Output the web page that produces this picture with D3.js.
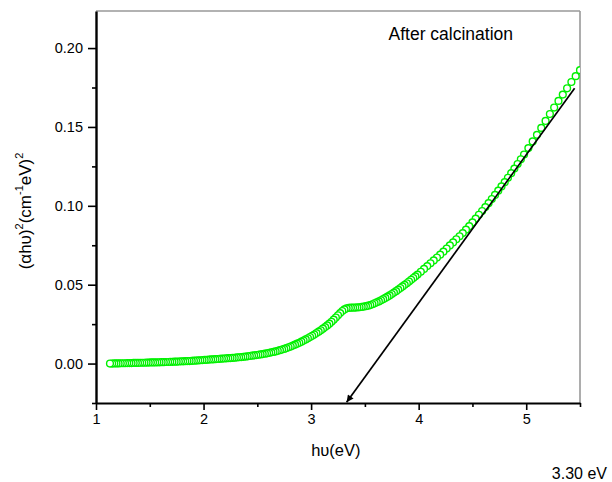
<!DOCTYPE html>
<html>
<head>
<meta charset="utf-8">
<script src="https://cdn.jsdelivr.net/npm/d3@7"></script>
<style>
    body { margin: 0; background: #fff; }
    text { font-family: "Liberation Sans", Arial, sans-serif; fill: #000; }
</style>
</head>
<body>
<div class="chart"></div>
<script>
// photon energy hv (eV)
var energy = [
    1.13,1.15,1.17,1.19,1.21,1.23,1.25,1.27,1.29,1.31,
    1.33,1.35,1.37,1.39,1.41,1.43,1.45,1.47,1.49,1.51,
    1.53,1.55,1.57,1.59,1.61,1.63,1.65,1.67,1.69,1.71,
    1.73,1.75,1.77,1.79,1.81,1.83,1.85,1.87,1.89,1.91,
    1.93,1.95,1.97,1.99,
    2.01,2.03,2.05,2.07,2.09,2.11,2.13,2.15,2.17,2.19,
    2.21,2.23,2.25,2.27,2.29,2.31,2.33,2.35,2.37,2.39,
    2.41,2.43,2.45,2.47,2.49,2.51,2.53,2.55,2.57,2.59,
    2.61,2.63,2.65,2.67,2.69,2.71,2.73,2.75,2.77,2.79,
    2.81,2.83,2.85,2.87,2.89,2.91,2.93,2.95,2.97,2.99,
    3.01,3.03,3.05,3.07,3.09,3.11,3.13,3.15,3.17,3.19,
    3.21,3.23,3.25,3.27,3.29,3.31,3.33,3.35,3.37,3.39,
    3.41,3.43,3.45,3.47,3.49,3.51,3.53,3.55,3.57,3.59,
    3.61,3.63,3.65,3.67,3.69,3.71,3.73,3.75,3.77,3.79,
    3.81,3.83,3.85,3.87,3.89,3.91,3.93,3.95,3.97,3.99,
    4.02,4.05,4.08,4.11,4.14,4.17,4.20,4.23,4.26,4.29,
    4.32,4.35,4.38,4.41,4.44,4.47,4.50,4.53,4.56,4.59,
    4.62,4.65,4.68,4.71,4.74,4.77,4.80,4.83,4.86,4.89,
    4.92,4.95,4.98,
    5.02,5.06,5.10,5.14,5.18,5.22,5.26,5.30,5.34,5.38,
    5.42,5.46,5.50
];
// (alpha h v)^2 (cm-1 eV)^2
var alphaHv2 = [
    0.0000,0.0000,0.0001,0.0001,0.0001,0.0002,0.0002,0.0002,0.0003,0.0003,
    0.0003,0.0004,0.0004,0.0004,0.0005,0.0005,0.0005,0.0006,0.0006,0.0007,
    0.0007,0.0007,0.0008,0.0008,0.0009,0.0009,0.0010,0.0010,0.0011,0.0011,
    0.0012,0.0012,0.0013,0.0014,0.0014,0.0015,0.0016,0.0016,0.0017,0.0018,
    0.0019,0.0020,0.0021,0.0022,
    0.0023,0.0024,0.0025,0.0026,0.0027,0.0028,0.0029,0.0030,0.0031,0.0032,
    0.0033,0.0034,0.0035,0.0036,0.0037,0.0039,0.0040,0.0041,0.0043,0.0044,
    0.0046,0.0048,0.0050,0.0052,0.0054,0.0056,0.0058,0.0060,0.0063,0.0065,
    0.0068,0.0071,0.0074,0.0077,0.0081,0.0085,0.0089,0.0093,0.0098,0.0103,
    0.0108,0.0114,0.0120,0.0126,0.0132,0.0139,0.0146,0.0153,0.0160,0.0168,
    0.0176,0.0184,0.0193,0.0202,0.0211,0.0221,0.0231,0.0242,0.0253,0.0265,
    0.0278,0.0292,0.0306,0.0320,0.0333,0.0343,0.0350,0.0353,0.0354,0.0354,
    0.0355,0.0356,0.0357,0.0359,0.0361,0.0364,0.0367,0.0371,0.0376,0.0382,
    0.0388,0.0394,0.0401,0.0408,0.0416,0.0424,0.0432,0.0441,0.0450,0.0459,
    0.0469,0.0479,0.0489,0.0499,0.0509,0.0520,0.0531,0.0542,0.0553,0.0564,
    0.0582,0.0600,0.0618,0.0636,0.0654,0.0672,0.0690,0.0709,0.0729,0.0749,
    0.0768,0.0788,0.0807,0.0827,0.0849,0.0871,0.0895,0.0919,0.0943,0.0967,
    0.0992,0.1017,0.1043,0.1069,0.1096,0.1123,0.1150,0.1178,0.1207,0.1236,
    0.1265,0.1295,0.1325,
    0.1366,0.1408,0.1450,0.1494,0.1538,0.1582,0.1623,0.1665,0.1705,0.1745,
    0.1785,0.1822,0.1860
];
// linear fit, drawn from the upper end down to the arrow tip
var fitLine = [[5.45, 0.1746], [3.33, -0.0245]];

var xDomain = [1, 5.5];
var yDomain = [-0.025, 0.2235];
var xMajorTicks = [1, 2, 3, 4, 5];
var xMinorTicks = [1.5, 2.5, 3.5, 4.5, 5.5];
var yMajorTicks = [0, 0.05, 0.10, 0.15, 0.20];
var yMinorTicks = [-0.025, 0.025, 0.075, 0.125, 0.175];

var title = "After calcination";
var xLabel = "h\u03C5(eV)";
var gapLabel = "3.30 eV";

var option = {
    container: ".chart",
    width: 612,
    height: 482,
    marginTop: 11,
    marginRight: 32,
    marginBottom: 79,
    marginLeft: 96
};

function absorptionPlot(options) {
    var margin = {top: options.marginTop, right: options.marginRight, bottom: options.marginBottom, left: options.marginLeft};
    var width = options.width - margin.left - margin.right,
        height = options.height - margin.top - margin.bottom;

    var data = energy.map(function (e, i) {
        return {x: e, y: alphaHv2[i]};
    });

    var xScale = d3.scaleLinear().domain(xDomain).range([0, width]);
    var yScale = d3.scaleLinear().domain(yDomain).range([height, 0]);

    var svgRoot = d3.select(options.container)
        .append("svg")
        .attr("width", options.width)
        .attr("height", options.height);

    var defs = svgRoot.append("defs");
    defs.append("clipPath")
        .attr("id", "plotclip")
        .append("rect")
        .attr("width", width)
        .attr("height", height);
    defs.append("marker")
        .attr("id", "arrow")
        .attr("viewBox", "0 0 10 10")
        .attr("refX", 10)
        .attr("refY", 5)
        .attr("markerUnits", "userSpaceOnUse")
        .attr("markerWidth", 12)
        .attr("markerHeight", 7)
        .attr("orient", "auto")
        .append("path")
        .attr("d", "M0,0 L10,5 L0,10 z")
        .attr("fill", "#000");

    var svg = svgRoot.append("g")
        .attr("transform", "translate(" + margin.left + "," + margin.top + ")");

// Frame top and right
    svg.append("line")
        .attr("x1", 0).attr("x2", width)
        .attr("y1", 0).attr("y2", 0)
        .style("stroke", "#666")
        .style("stroke-width", 1.2);
    svg.append("line")
        .attr("x1", width).attr("x2", width)
        .attr("y1", 0).attr("y2", height)
        .style("stroke", "#999")
        .style("stroke-width", 1.6);

// Draw points, last drawn at the low energy end like the wavelength scan
    svg.append("g")
        .attr("clip-path", "url(#plotclip)")
        .selectAll("circle")
        .data(data.slice().reverse())
        .enter().append("circle")
        .attr("cx", function (d) { return xScale(d.x); })
        .attr("cy", function (d) { return yScale(d.y); })
        .attr("r", 3.4)
        .style("fill", "#fff")
        .style("stroke", "#00f000")
        .style("stroke-width", 1.4);

// Fit line with arrow
    svg.append("path")
        .datum(fitLine)
        .attr("d", d3.line()
            .x(function (d) { return xScale(d[0]); })
            .y(function (d) { return yScale(d[1]); }))
        .style("fill", "none")
        .style("stroke", "#000")
        .style("stroke-width", 1.7)
        .attr("marker-end", "url(#arrow)");

// x axis: minor ticks in their own group, then major ticks with labels
    var x_minor = svg.append("g")
        .attr("transform", "translate(0," + height + ")")
        .call(d3.axisBottom(xScale).tickValues(xMinorTicks).tickSize(4).tickSizeOuter(0).tickFormat(""));
    x_minor.select("path").remove();
    x_minor.selectAll("line").style("stroke", "#000").style("stroke-width", 1.6);

    var x_g = svg.append("g")
        .attr("transform", "translate(0," + height + ")")
        .call(d3.axisBottom(xScale).tickValues(xMajorTicks).tickSize(7).tickSizeOuter(0).tickPadding(4)
            .tickFormat(d3.format("d")));
    x_g.selectAll("path").style("stroke", "#000").style("stroke-width", 2);
    x_g.selectAll("line").style("stroke", "#000").style("stroke-width", 1.6);
    x_g.selectAll("text")
        .style("font-size", "14.5px")
        .style("font-family", "'Liberation Sans', Arial, sans-serif");

// y axis
    var y_minor = svg.append("g")
        .call(d3.axisLeft(yScale).tickValues(yMinorTicks).tickSize(4).tickSizeOuter(0).tickFormat(""));
    y_minor.select("path").remove();
    y_minor.selectAll("line").style("stroke", "#000").style("stroke-width", 1.6);

    var y_g = svg.append("g")
        .call(d3.axisLeft(yScale).tickValues(yMajorTicks).tickSize(8).tickSizeOuter(0).tickPadding(5)
            .tickFormat(d3.format(".2f")));
    y_g.selectAll("path").style("stroke", "#000").style("stroke-width", 2.4);
    y_g.selectAll("line").style("stroke", "#000").style("stroke-width", 1.6);
    y_g.selectAll("text")
        .style("font-size", "14.5px")
        .style("font-family", "'Liberation Sans', Arial, sans-serif");

// Labels
    svg.append("text")
        .attr("x", xScale(3.72))
        .attr("y", 29)
        .style("font-size", "17.5px")
        .text(title);

    svg.append("text")
        .attr("x", xScale(3.23))
        .attr("y", height + 53)
        .attr("text-anchor", "middle")
        .style("font-size", "16.5px")
        .text(xLabel);

    var yTitle = svg.append("text")
        .attr("transform", "translate(" + (-65) + "," + (height / 2 + 4) + ") rotate(-90)")
        .attr("text-anchor", "middle")
        .style("font-size", "17px");
    yTitle.append("tspan").text("(\u03B1h\u03C5)");
    yTitle.append("tspan").attr("dy", -8).style("font-size", "11px").text("2");
    yTitle.append("tspan").attr("dy", 8).text("(cm");
    yTitle.append("tspan").attr("dy", -8).style("font-size", "11px").text("-1");
    yTitle.append("tspan").attr("dy", 8).text("eV)");
    yTitle.append("tspan").attr("dy", -8).style("font-size", "11px").text("2");

    svgRoot.append("text")
        .attr("x", 607)
        .attr("y", 479)
        .attr("text-anchor", "end")
        .style("font-size", "16px")
        .text(gapLabel);
}
absorptionPlot(option);
</script>
</body>
</html>
